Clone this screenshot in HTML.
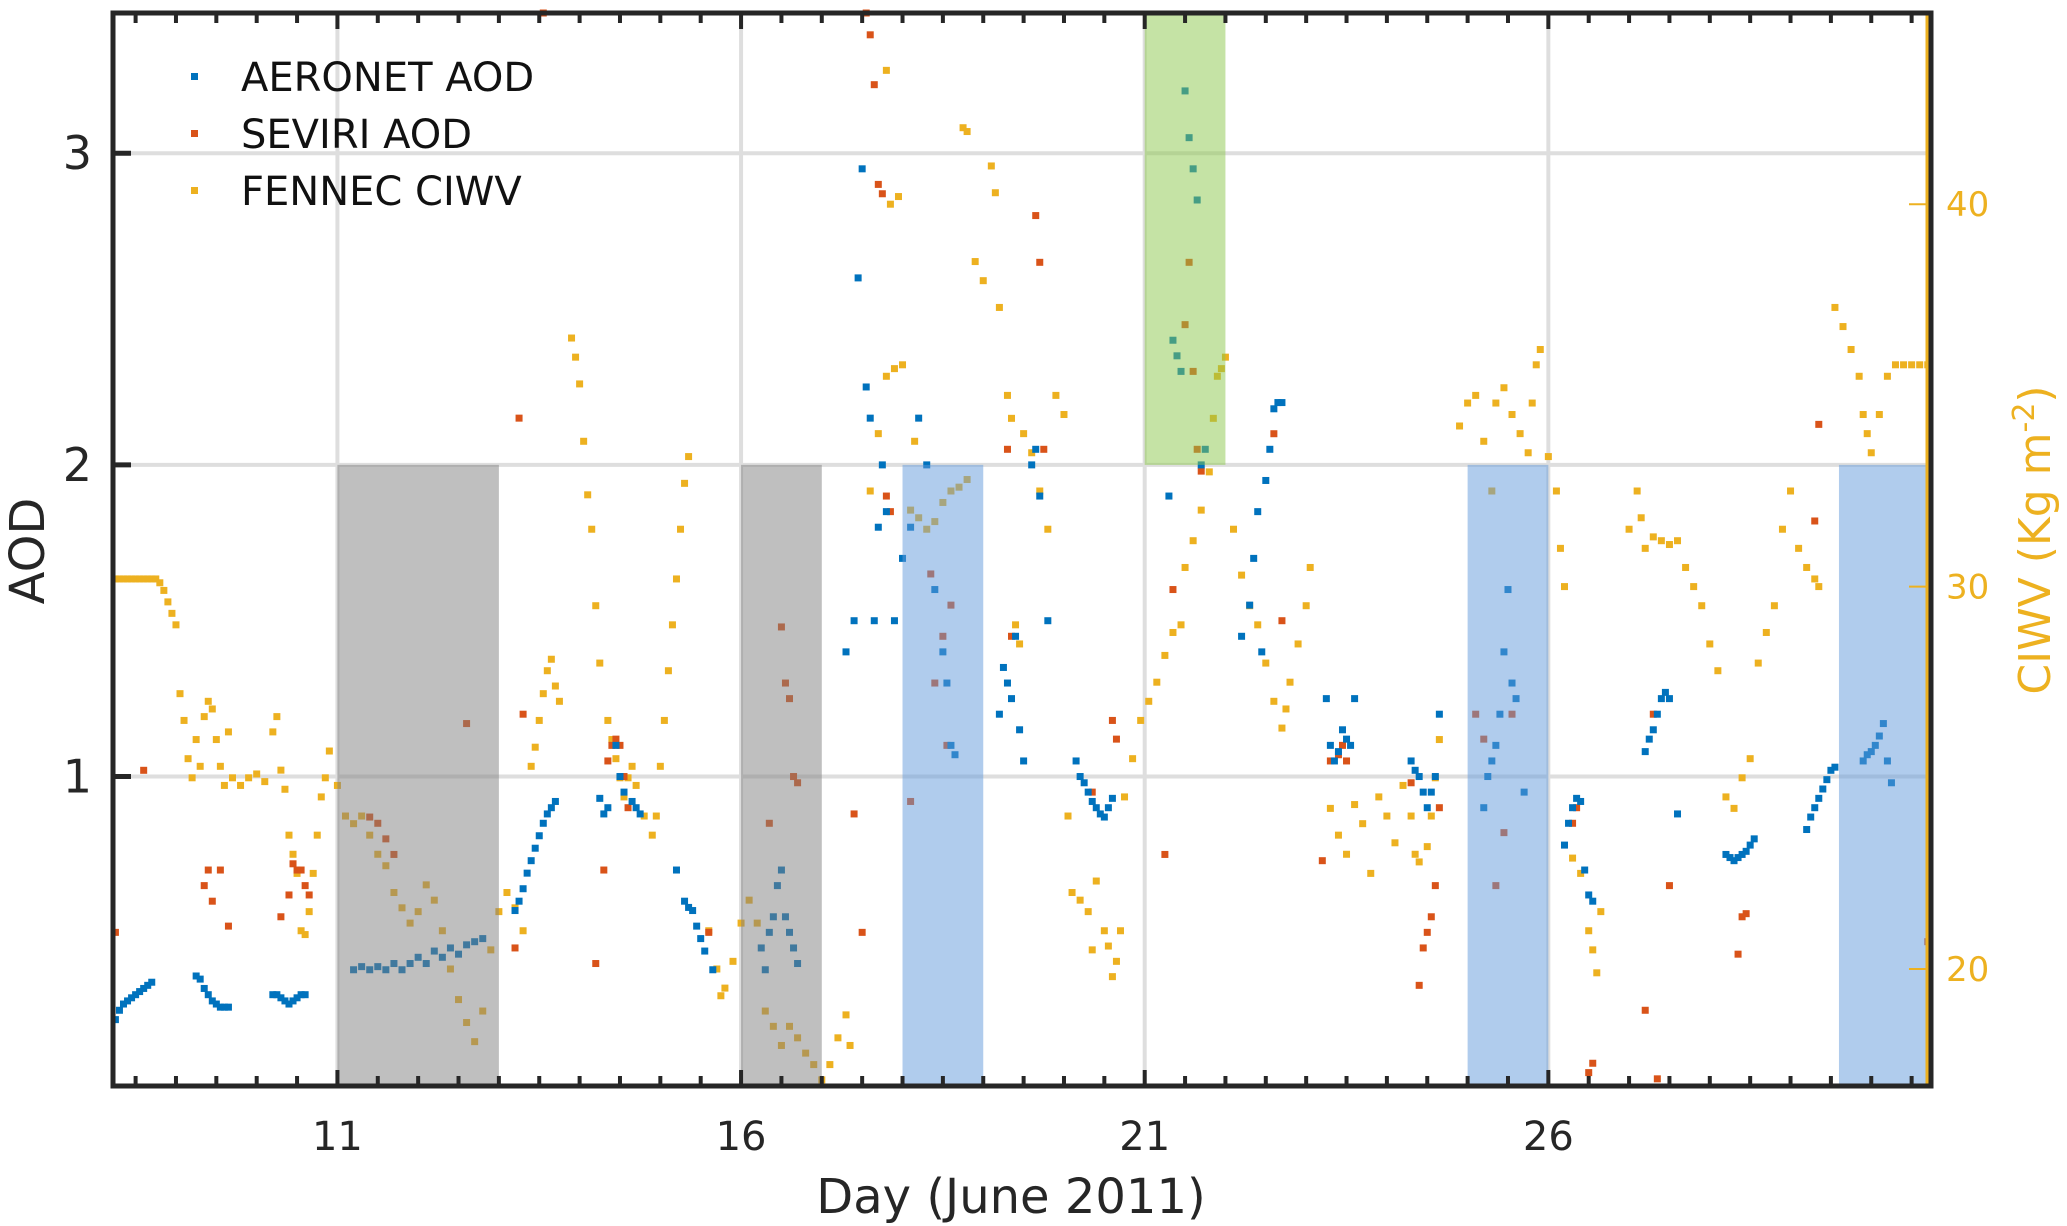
<!DOCTYPE html>
<html><head><meta charset="utf-8"><style>
html,body{margin:0;padding:0;background:#fff;}
svg{display:block;font-family:"DejaVu Sans","Liberation Sans",sans-serif;}
</style></head><body>
<svg id="chart" width="2067" height="1226" viewBox="0 0 2067 1226" xmlns="http://www.w3.org/2000/svg">
<g id="grid"></g>
<g id="pts"></g>
<g id="shades"></g>
<g id="axes"></g>
<g id="legend"></g>
</svg>
<script>
const xTicks = [11, 16, 21, 26];
const aodTicks = [1, 2, 3];
const ciwvTicks = [20, 30, 40];
const shadeRegions = [[11,13,0,2,'gray'],[16,17,0,2,'gray'],[18,19,0,2,'blue'],[21,22,2,3.5,'green'],[25,26,0,2,'blue'],[29.6,30.75,0,2,'blue']];
const aeronet = [[8.25,0.22],[8.3,0.25],[8.35,0.27],[8.4,0.28],[8.45,0.29],[8.5,0.3],[8.55,0.31],[8.6,0.32],[8.65,0.33],[8.7,0.34],
[9.25,0.36],[9.3,0.35],[9.35,0.32],[9.4,0.3],[9.45,0.28],[9.5,0.27],[9.55,0.26],[9.6,0.26],[9.65,0.26],
[10.2,0.3],[10.25,0.3],[10.3,0.29],[10.35,0.28],[10.4,0.27],[10.45,0.28],[10.5,0.29],[10.55,0.3],[10.6,0.3],
[11.2,0.38],[11.3,0.39],[11.4,0.38],[11.5,0.39],[11.6,0.38],[11.7,0.4],[11.8,0.38],[11.9,0.4],[12.0,0.42],[12.1,0.4],[12.2,0.44],[12.3,0.42],[12.4,0.45],[12.5,0.43],[12.6,0.46],[12.7,0.47],[12.8,0.48],
[13.2,0.57],[13.25,0.6],[13.3,0.64],[13.35,0.69],[13.4,0.73],[13.45,0.77],[13.5,0.81],[13.55,0.85],[13.6,0.88],[13.65,0.9],[13.7,0.92],
[14.25,0.93],[14.3,0.88],[14.35,0.9],[14.45,1.1],[14.5,1.0],[14.55,0.95],[14.65,0.92],[14.7,0.9],[14.75,0.88],
[15.2,0.7],[15.3,0.6],[15.35,0.58],[15.4,0.57],[15.45,0.52],[15.5,0.48],[15.55,0.44],[15.65,0.38],
[16.25,0.45],[16.3,0.38],[16.35,0.5],[16.4,0.55],[16.45,0.65],[16.5,0.7],[16.55,0.55],[16.6,0.5],[16.65,0.45],[16.7,0.4],
[17.3,1.4],[17.4,1.5],[17.45,2.6],[17.5,2.95],[17.55,2.25],[17.6,2.15],[17.65,1.5],[17.7,1.8],[17.75,2.0],[17.8,1.85],[17.9,1.5],[18.0,1.7],[18.1,1.8],[18.2,2.15],[18.3,2.0],[18.4,1.6],[18.5,1.4],[18.55,1.3],[18.6,1.1],[18.65,1.07],
[19.2,1.2],[19.25,1.35],[19.3,1.3],[19.35,1.25],[19.4,1.45],[19.45,1.15],[19.5,1.05],[19.6,2.0],[19.65,2.05],[19.7,1.9],[19.8,1.5],
[20.15,1.05],[20.2,1.0],[20.25,0.98],[20.3,0.95],[20.35,0.92],[20.4,0.9],[20.45,0.88],[20.5,0.87],[20.55,0.9],[20.6,0.93],
[21.3,1.9],[21.35,2.4],[21.4,2.35],[21.45,2.3],[21.5,3.2],[21.55,3.05],[21.6,2.95],[21.65,2.85],[21.7,2.0],[21.75,2.05],
[22.2,1.45],[22.3,1.55],[22.35,1.7],[22.4,1.85],[22.45,1.4],[22.5,1.95],[22.55,2.05],[22.6,2.18],[22.65,2.2],[22.7,2.2],
[23.25,1.25],[23.3,1.1],[23.35,1.05],[23.4,1.08],[23.45,1.15],[23.5,1.12],[23.55,1.1],[23.6,1.25],
[24.3,1.05],[24.35,1.02],[24.4,1.0],[24.45,0.95],[24.5,0.9],[24.55,0.95],[24.6,1.0],[24.65,1.2],
[25.2,0.9],[25.25,1.0],[25.3,1.05],[25.35,1.1],[25.4,1.2],[25.45,1.4],[25.5,1.6],[25.55,1.3],[25.6,1.25],[25.7,0.95],
[26.2,0.78],[26.25,0.85],[26.3,0.9],[26.35,0.93],[26.4,0.92],[26.45,0.7],[26.5,0.62],[26.55,0.6],
[27.2,1.08],[27.25,1.12],[27.3,1.15],[27.35,1.2],[27.4,1.25],[27.45,1.27],[27.5,1.25],[27.6,0.88],
[28.2,0.75],[28.25,0.74],[28.3,0.73],[28.35,0.74],[28.4,0.75],[28.45,0.76],[28.5,0.78],[28.55,0.8],
[29.2,0.83],[29.25,0.87],[29.3,0.9],[29.35,0.93],[29.4,0.96],[29.45,0.99],[29.5,1.02],[29.55,1.03],
[29.9,1.05],[29.95,1.07],[30.0,1.08],[30.05,1.1],[30.1,1.13],[30.15,1.17],[30.2,1.05],[30.25,0.98]];
const seviri = [[8.25,0.5],[8.6,1.02],[9.35,0.65],[9.4,0.7],[9.45,0.6],[9.55,0.7],[9.65,0.52],[10.3,0.55],[10.4,0.62],[10.45,0.72],[10.5,0.7],[10.55,0.7],[10.6,0.65],[10.65,0.62],[11.4,0.87],[11.5,0.85],[11.6,0.8],[11.7,0.75],[12.6,1.17],[13.25,2.15],[13.2,0.45],[13.3,1.2],[13.55,3.45],[14.2,0.4],[14.3,0.7],[14.35,1.05],[14.4,1.1],[14.45,1.12],[14.5,1.1],[14.55,1.0],[14.6,0.9],[15.6,0.5],[16.35,0.85],[16.5,1.48],[16.55,1.3],[16.6,1.25],[16.65,1.0],[16.7,0.98],[17.5,0.5],[17.4,0.88],[17.55,3.45],[17.6,3.38],[17.65,3.22],[17.7,2.9],[17.75,2.87],[17.8,1.9],[17.85,1.85],[18.1,0.92],[18.35,1.65],[18.4,1.3],[18.5,1.45],[18.55,1.1],[18.6,1.55],[19.35,1.45],[19.3,2.05],[19.65,2.8],[19.7,2.65],[19.75,2.05],[20.35,0.95],[20.6,1.18],[20.65,1.12],[21.25,0.75],[21.35,1.6],[21.5,2.45],[21.55,2.65],[21.6,2.3],[21.65,2.05],[21.7,1.98],[22.6,2.1],[22.7,1.5],[23.2,0.73],[23.3,1.05],[23.4,1.07],[23.5,1.05],[23.45,1.1],[24.3,0.98],[24.4,0.33],[24.45,0.45],[24.5,0.5],[24.55,0.55],[24.6,0.65],[24.65,0.9],[25.1,1.2],[25.2,1.12],[25.35,0.65],[25.45,0.82],[25.55,1.2],[26.5,0.05],[26.55,0.08],[26.3,0.85],[26.35,0.9],[27.2,0.25],[27.35,0.03],[27.5,0.65],[27.3,1.2],[28.4,0.55],[28.45,0.56],[28.35,0.43],[29.35,2.13],[29.3,1.82],[30.7,0.47]];
const fennec = [[8.25,30.2],[8.3,30.2],[8.35,30.2],[8.4,30.2],[8.45,30.2],[8.5,30.2],[8.55,30.2],[8.6,30.2],[8.65,30.2],[8.7,30.2],[8.75,30.2],[8.8,30.1],[8.85,29.9],[8.9,29.6],[8.95,29.3],[9.0,29.0],
[9.05,27.2],[9.1,26.5],[9.15,25.5],[9.2,25.0],[9.25,26.0],[9.3,25.3],[9.35,26.6],[9.4,27.0],[9.45,26.8],[9.5,26.0],[9.55,25.3],[9.6,24.8],[9.65,26.2],
[9.7,25.0],[9.8,24.8],[9.9,25.0],[10.0,25.1],[10.1,24.9],[10.2,26.2],[10.25,26.6],[10.3,25.2],[10.35,24.7],[10.4,23.5],[10.45,23.0],[10.5,22.5],
[10.55,21.0],[10.6,20.9],[10.65,21.5],[10.7,22.5],[10.75,23.5],[10.8,24.5],[10.85,25.0],[10.9,25.7],[11.0,24.8],
[11.1,24.0],[11.2,23.8],[11.3,24.0],[11.4,23.5],[11.5,23.0],[11.6,22.7],[11.7,22.0],[11.8,21.6],[11.9,21.2],[12.0,21.5],[12.1,22.2],[12.2,21.8],[12.3,21.0],[12.4,20.0],[12.5,19.2],[12.6,18.6],[12.7,18.1],[12.8,18.9],[12.9,20.5],[13.0,21.5],[13.1,22.0],[13.2,21.6],[13.3,21.0],
[13.4,25.3],[13.45,25.8],[13.5,26.5],[13.55,27.2],[13.6,27.8],[13.65,28.1],[13.7,27.4],[13.75,27.0],
[13.9,36.5],[13.95,36.0],[14.0,35.3],[14.05,33.8],[14.1,32.4],[14.15,31.5],[14.2,29.5],[14.25,28.0],
[14.35,26.5],[14.4,26.0],[14.45,25.5],[14.5,25.0],[14.55,24.5],[14.6,25.0],[14.65,25.3],[14.7,24.8],[14.8,24.0],[14.9,23.5],
[14.95,24.0],[15.0,25.3],[15.05,26.5],[15.1,27.8],[15.15,29.0],[15.2,30.2],[15.25,31.5],[15.3,32.7],[15.35,33.4],
[15.6,21.0],[15.7,20.0],[15.75,19.3],[15.8,19.5],[15.9,20.2],[16.0,21.2],[16.1,21.8],[16.2,21.2],
[16.3,18.9],[16.4,18.5],[16.5,18.0],[16.6,18.5],[16.7,18.2],[16.8,17.8],[16.9,17.5],[17.0,17.1],[17.1,17.5],[17.2,18.2],[17.3,18.8],[17.35,18.0],
[17.6,32.5],[17.7,34.0],[17.8,35.5],[17.9,35.7],[18.0,35.8],[17.85,40.0],[17.95,40.2],[17.8,43.5],[18.15,33.8],
[18.1,32.0],[18.2,31.8],[18.3,31.5],[18.4,31.7],[18.5,32.2],[18.6,32.5],[18.7,32.6],[18.8,32.8],
[18.75,42.0],[18.8,41.9],[18.9,38.5],[19.0,38.0],[19.1,41.0],[19.15,40.3],[19.2,37.3],[19.3,35.0],[19.35,34.4],
[19.4,29.0],[19.45,28.5],[19.5,34.0],[19.6,33.5],[19.7,32.5],[19.8,31.5],[19.9,35.0],[20.0,34.5],
[20.05,24.0],[20.1,22.0],[20.2,21.8],[20.3,21.5],[20.35,20.5],[20.4,22.3],[20.5,21.0],[20.55,20.6],[20.6,19.8],[20.65,20.2],[20.7,21.0],
[20.75,24.5],[20.85,25.5],[20.95,26.5],[21.05,27.0],[21.15,27.5],[21.25,28.2],[21.35,28.8],[21.45,29.0],
[21.5,30.5],[21.6,31.2],[21.7,32.0],[21.8,33.0],[21.85,34.4],[21.9,35.5],[21.95,35.7],[22.0,36.0],
[22.1,31.5],[22.2,30.3],[22.3,29.5],[22.4,29.0],[22.5,28.0],[22.6,27.0],[22.7,26.3],[22.75,26.8],[22.8,27.5],[22.9,28.5],[23.0,29.5],[23.05,30.5],
[23.3,24.2],[23.4,23.5],[23.5,23.0],[23.6,24.3],[23.7,23.8],[23.8,22.5],[23.9,24.5],[24.0,24.0],[24.1,23.3],[24.2,24.8],
[24.3,24.0],[24.35,23.0],[24.4,22.8],[24.5,23.2],[24.55,24.0],[24.6,25.0],[24.65,26.0],
[24.9,34.2],[25.0,34.8],[25.1,35.0],[25.2,33.8],[25.3,32.5],[25.35,34.8],[25.45,35.2],[25.55,34.5],[25.65,34.0],[25.75,33.5],[25.8,34.8],[25.85,35.8],[25.9,36.2],[26.0,33.4],
[26.1,32.5],[26.15,31.0],[26.2,30.0],
[26.3,22.9],[26.4,22.5],[26.5,21.0],[26.55,20.5],[26.6,19.9],[26.65,21.5],
[27.0,31.5],[27.1,32.5],[27.15,31.8],[27.2,31.0],[27.3,31.3],[27.4,31.2],[27.5,31.1],[27.6,31.2],[27.7,30.5],[27.8,30.0],[27.9,29.5],[28.0,28.5],[28.1,27.8],
[28.2,24.5],[28.3,24.2],[28.4,25.0],[28.5,25.5],
[28.6,28.0],[28.7,28.8],[28.8,29.5],[28.9,31.5],[29.0,32.5],[29.1,31.0],[29.2,30.5],[29.3,30.2],[29.35,30.0],
[29.55,37.3],[29.65,36.8],[29.75,36.2],[29.85,35.5],[29.9,34.5],[29.95,34.0],[30.0,33.5],[30.1,34.5],[30.2,35.5],[30.3,35.8],[30.4,35.8],[30.5,35.8],[30.6,35.8],[30.7,35.8]];

const L=113,R=1931,T=13,B=1086;
const xMin=8.22,xMax=30.74,aMin=0.007,aMax=3.45,cMin=16.94,cMax=45.0;
const xs=d=>L+(d-xMin)/(xMax-xMin)*(R-L);
const ya=v=>B-(v-aMin)/(aMax-aMin)*(B-T);
const yc=v=>B-(v-cMin)/(cMax-cMin)*(B-T);
const NS='http://www.w3.org/2000/svg';
function mk(tag,attrs,parent){const e=document.createElementNS(NS,tag);for(const k in attrs)e.setAttribute(k,attrs[k]);parent.appendChild(e);return e;}
const grid=document.getElementById('grid'),pts=document.getElementById('pts'),sh=document.getElementById('shades'),ax=document.getElementById('axes'),lg=document.getElementById('legend');

xTicks.forEach(t=>{const l=mk('line',{x1:xs(t),x2:xs(t),y1:T,y2:B,stroke:'#dedede','stroke-width':4},grid);

});
aodTicks.forEach(t=>{const l=mk('line',{x1:L,x2:R,y1:ya(t),y2:ya(t),stroke:'#dedede','stroke-width':4},grid);

});

function drawSeries(arr,yf,color,name){arr.forEach(p=>{const y=Math.max(T,Math.min(B,yf(p[1])));
const r=mk('rect',{x:xs(p[0])-3.5,y:y-3.5,width:7,height:7,fill:color},pts);

});}
drawSeries(fennec,yc,'#EDB120','fennec-ciwv-point');
drawSeries(seviri,ya,'#D95319','seviri-aod-point');
drawSeries(aeronet,ya,'#0072BD','aeronet-aod-point');

const shadeCol={gray:'#808080',blue:'#6199dc',green:'#8cc84b'};
shadeRegions.forEach(s=>{const y1=ya(Math.min(s[3],aMax)),y0=ya(Math.max(s[2],aMin));
const r=mk('rect',{x:xs(s[0]),y:y1,width:xs(s[1])-xs(s[0]),height:y0-y1,fill:shadeCol[s[4]],'fill-opacity':0.5},sh);

});

// right axis yellow line
const ry=mk('line',{x1:R-4,x2:R-4,y1:T,y2:B,stroke:'#EDB120','stroke-width':3},ax);


// frame
const fr=mk('rect',{x:L,y:T,width:R-L,height:B-T,fill:'none',stroke:'#262626','stroke-width':5},ax);


// x ticks (minor every 0.5 day)
for(let d=8.5;d<=30.5;d+=0.5){const major=xTicks.includes(d);const len=major?16:10;
const t1=mk('line',{x1:xs(d),x2:xs(d),y1:B,y2:B-len,stroke:'#262626','stroke-width':4},ax);


const t2=mk('line',{x1:xs(d),x2:xs(d),y1:T,y2:T+len,stroke:'#262626','stroke-width':4},ax);

}
xTicks.forEach(t=>{const tx=mk('text',{x:xs(t),y:1150,'text-anchor':'middle','font-size':40,fill:'#262626'},ax);tx.textContent=t;

});
aodTicks.forEach(t=>{const l=mk('line',{x1:L,x2:L+18,y1:ya(t),y2:ya(t),stroke:'#262626','stroke-width':5},ax);


const tx=mk('text',{x:92,y:ya(t)+16,'text-anchor':'end','font-size':46,fill:'#262626'},ax);tx.textContent=t;

});
ciwvTicks.forEach(t=>{const l=mk('line',{x1:R-22,x2:R-4,y1:yc(t),y2:yc(t),stroke:'#EDB120','stroke-width':2},ax);


const tx=mk('text',{x:1946,y:yc(t)+12,'text-anchor':'start','font-size':34,fill:'#EDB120'},ax);tx.textContent=t;

});
</script>
<svg style="position:absolute;left:0;top:0" width="2067" height="1226">
<text x="1011" y="1213" text-anchor="middle" font-size="48" fill="#262626" font-family="DejaVu Sans, Liberation Sans, sans-serif">Day (June 2011)</text>
<text transform="translate(44,551) rotate(-90)" text-anchor="middle" font-size="48" fill="#262626" font-family="DejaVu Sans, Liberation Sans, sans-serif">AOD</text>
<text transform="translate(2050,540) rotate(-90)" text-anchor="middle" font-size="44" fill="#EDB120" font-family="DejaVu Sans, Liberation Sans, sans-serif">CIWV (Kg m<tspan dy="-16" font-size="30">-2</tspan><tspan dy="16">)</tspan></text>
<g><rect x="191" y="73" width="7" height="7" fill="#0072BD"/><text x="241" y="91" font-size="40" fill="#111" font-family="DejaVu Sans, Liberation Sans, sans-serif">AERONET AOD</text></g>
<g><rect x="191" y="130" width="7" height="7" fill="#D95319"/><text x="241" y="148" font-size="40" fill="#111" font-family="DejaVu Sans, Liberation Sans, sans-serif">SEVIRI AOD</text></g>
<g><rect x="191" y="187" width="7" height="7" fill="#EDB120"/><text x="241" y="205" font-size="40" fill="#111" font-family="DejaVu Sans, Liberation Sans, sans-serif">FENNEC CIWV</text></g>
</svg>
</body></html>
